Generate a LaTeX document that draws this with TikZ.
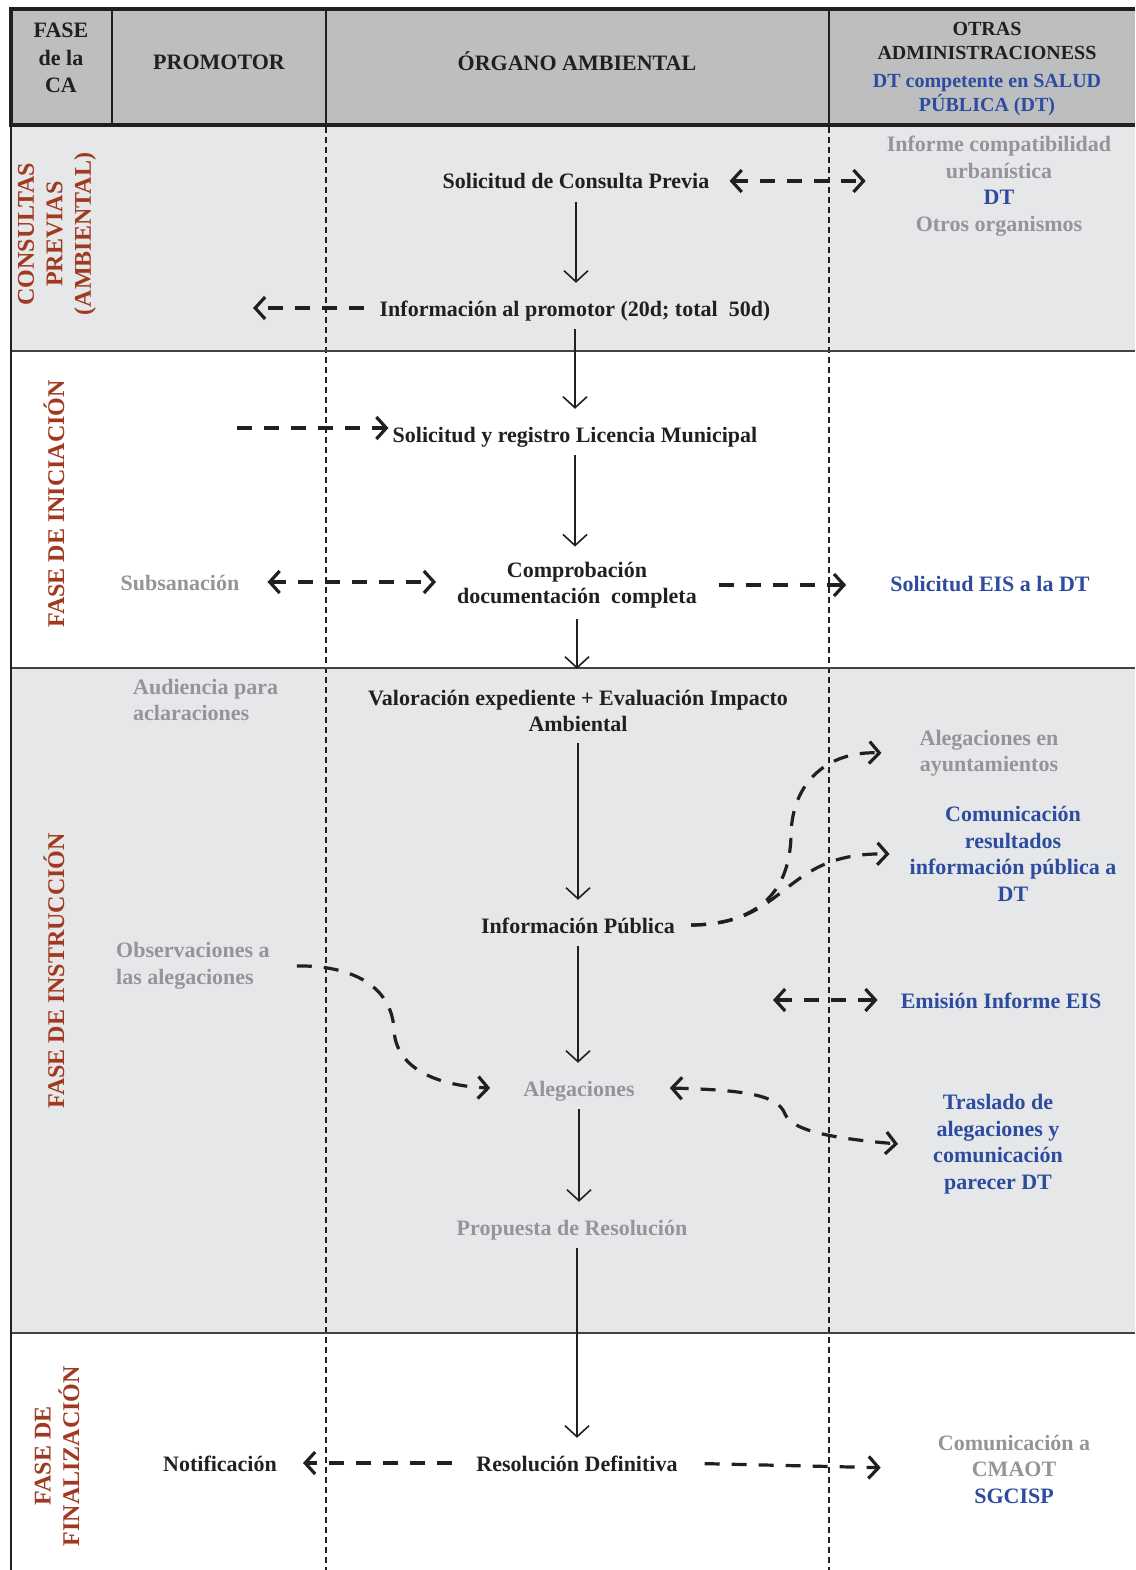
\documentclass[tikz,border=0pt]{standalone}
\usepackage{fontspec}
\setmainfont{Liberation Serif}
\usetikzlibrary{arrows.meta}

\definecolor{ink}{HTML}{231F20}
\definecolor{headgray}{HTML}{BCBEC0}
\definecolor{bandgray}{HTML}{E6E7E8}
\definecolor{phasered}{HTML}{A0391F}
\definecolor{softgray}{HTML}{939598}
\definecolor{dtblue}{HTML}{2E4C9F}

\newcommand{\flowfont}{\fontsize{22}{26.5}\selectfont\bfseries}
\newcommand{\othfont}{\fontsize{20}{24}\selectfont\bfseries}
\newcommand{\phasefont}{\fontsize{24}{28.5}\selectfont\bfseries}

\begin{document}
\begin{tikzpicture}[x=1pt,y=-1pt,
  lbl/.style={inner sep=0pt, font=\flowfont, text=ink},
  oneline/.style={text height=18pt, text depth=2pt},
  faded/.style={text=softgray},
  dtnote/.style={text=dtblue},
  phase/.style={inner sep=0pt, font=\phasefont, text=phasered, rotate=90, align=center},
  flow/.style={draw=ink, line width=1.6pt, -{Straight Barb[length=11pt,width=24pt]},
               shorten <=11pt, shorten >=15pt},
  dflow/.style={draw=ink, line width=3.2pt, dash pattern=on 15pt off 12pt,
                -{Straight Barb[length=10pt,width=22pt]}},
  ddflow/.style={dflow, {Straight Barb[length=10pt,width=22pt]}-{Straight Barb[length=10pt,width=22pt]}},
  lane/.style={draw=ink, line width=1.1pt, dash pattern=on 6pt off 4pt},
  hrule/.style={draw=ink!85, line width=1.5pt},
]
\useasboundingbox (0,0) rectangle (1135,1570);

% ---------- bands ----------
\fill[white] (0,0) rectangle (1135,1570);
\fill[bandgray] (11,125) rectangle (1135,351);
\fill[bandgray] (11,668) rectangle (1135,1333);
\fill[headgray] (11,9) rectangle (1135,125);

% swimlane separators
\draw[lane] (326,127) -- (326,1570);
\draw[lane] (829,127) -- (829,1570);

% phase separators and left border
\draw[hrule] (11,351) -- (1135,351);
\draw[hrule] (11,668) -- (1135,668);
\draw[hrule] (11,1333) -- (1135,1333);
\draw[ink, line width=2pt] (11,125) -- (11,1570);

% ---------- header ----------
\draw[ink, line width=4pt] (1135,9) -- (11,9) -- (11,125) -- (1135,125);
\draw[ink, line width=2.5pt] (112,9) -- (112,125);
\draw[ink, line width=2.5pt] (326,9) -- (326,125);
\draw[ink, line width=2.5pt] (829,9) -- (829,125);

\node[lbl, align=center, font=\fontsize{22}{27.5}\selectfont\bfseries] (hfase) at (61,58) {FASE\\de la\\CA};
\node[lbl] (hprom) at (219,62) {PROMOTOR};
\node[lbl] (horg) at (577,61) {ÓRGANO AMBIENTAL};
\node[lbl, align=center, font=\othfont] (hotr) at (987,69)
  {OTRAS\\ADMINISTRACIONESS\\[4pt]\textcolor{dtblue}{DT competente en SALUD}\\\textcolor{dtblue}{PÚBLICA (DT)}};

% ---------- phase labels ----------
\node[phase] (ph1) at (57,234) {CONSULTAS\\PREVIAS\\(AMBIENTAL)};
\node[phase] (ph2) at (54,504) {FASE DE INICIACIÓN};
\node[phase] (ph3) at (54,971) {FASE DE INSTRUCCIÓN};
\node[phase] (ph4) at (57,1456) {FASE DE\\FINALIZACIÓN};

% ---------- environmental body (main flow) ----------
\node[lbl, oneline] (scp) at (576,181) {Solicitud de Consulta Previa};
\node[lbl, oneline] (ipr) at (575,308) {Información al promotor (20d; total\ \ 50d)};
\node[lbl, oneline] (srl) at (575,434) {Solicitud y registro Licencia Municipal};
\node[lbl, align=center] (cdc) at (577,585) {Comprobación\\documentación\ \ completa};
\node[lbl, align=center] (vee) at (578,711) {Valoración expediente + Evaluación Impacto\\Ambiental};
\node[lbl, oneline] (ipu) at (578,925) {Información Pública};
\node[lbl, oneline, faded] (ale) at (579,1088) {Alegaciones};
\node[lbl, oneline, faded] (pro) at (572,1227) {Propuesta de Resolución};
\node[lbl, oneline] (res) at (577,1463) {Resolución Definitiva};

% ---------- promoter ----------
\node[lbl, oneline, faded] (sub) at (180,582) {Subsanación};
\node[lbl, align=left, faded, anchor=west] (aud) at (133,700) {Audiencia para\\aclaraciones};
\node[lbl, align=left, faded, anchor=west] (obs) at (116,966) {Observaciones a\\las alegaciones};
\node[lbl, oneline] (not) at (220,1463) {Notificación};

% ---------- other administrations ----------
\node[lbl, align=center] (oth1) at (999,186)
  {\textcolor{softgray}{Informe compatibilidad}\\\textcolor{softgray}{urbanística}\\\textcolor{dtblue}{DT}\\\textcolor{softgray}{Otros organismos}};
\node[lbl, oneline, dtnote] (eis) at (990,583) {Solicitud EIS a la DT};
\node[lbl, align=center, faded] (aay) at (989,753) {Alegaciones en\\ayuntamientos};
\node[lbl, align=center, dtnote] (cri) at (1013,854) {Comunicación\\resultados\\información pública a\\DT};
\node[lbl, oneline, dtnote] (emi) at (1001,1000) {Emisión Informe EIS};
\node[lbl, align=center, dtnote] (tra) at (998,1144) {Traslado de\\alegaciones y\\comunicación\\parecer DT};
\node[lbl, align=center] (cma) at (1014,1469)
  {\textcolor{softgray}{Comunicación a}\\\textcolor{softgray}{CMAOT}\\\textcolor{dtblue}{SGCISP}};

% ---------- main sequence ----------
\draw[flow] (scp.south) -- (scp.south |- ipr.north);
\draw[flow] (ipr.south) -- (ipr.south |- srl.north);
\draw[flow] (srl.south) -- (srl.south |- cdc.north);
\draw[flow, shorten >=21pt] (cdc.south) -- (cdc.south |- vee.north);
\draw[flow] (vee.south) -- (vee.south |- ipu.north);
\draw[flow] (ipu.south) -- (ipu.south |- ale.north);
\draw[flow] (ale.south) -- (ale.south |- pro.north);
\draw[flow] (pro.south -| res.north) -- (res.north);

% ---------- exchanges ----------
\draw[ddflow, shorten <=20pt, shorten >=21pt] (scp.east) -- (scp.east -| oth1.west);

\coordinate (back) at (253,308);
\draw[dflow, shorten <=15pt] (ipr.west) -- (back);

\coordinate (lic) at (237,428);
\draw[dflow, shorten >=4pt] (lic) -- (lic -| srl.west);

\draw[ddflow, shorten <=28pt, shorten >=21pt] (sub.east) -- (sub.east -| cdc.west);
\draw[dflow, shorten <=22pt, shorten >=44pt] (cdc.east) -- (cdc.east -| eis.west);

\draw[dflow] ([xshift=16pt]ipu.east) .. controls (760,924) and (790,890) .. (791,835)
  .. controls (792,780) and (830,751) .. ([xshift=-38pt]aay.west);
\draw[dflow] ([xshift=16pt]ipu.east) .. controls (790,925) and (780,852) .. ([xshift=-20pt]cri.west);

\coordinate (eisl) at (773,1000);
\draw[ddflow, shorten >=23pt] (eisl) -- (eisl -| emi.west);

\draw[dflow] ([xshift=27pt]obs.east) .. controls (350,965) and (392,985) .. (394,1030)
  .. controls (396,1070) and (440,1086) .. ([xshift=-33pt]ale.west);

\draw[ddflow] ([xshift=35pt]ale.east) .. controls (750,1090) and (778,1096) .. (785,1114)
  .. controls (792,1132) and (840,1139) .. ([xshift=-35pt]tra.west);

\draw[dflow, shorten <=24pt, shorten >=26pt] (res.west) -- (res.west -| not.east);
\draw[dflow, shorten <=27pt, shorten >=57pt] (res.east) -- (cma.west);

\end{tikzpicture}
\end{document}
